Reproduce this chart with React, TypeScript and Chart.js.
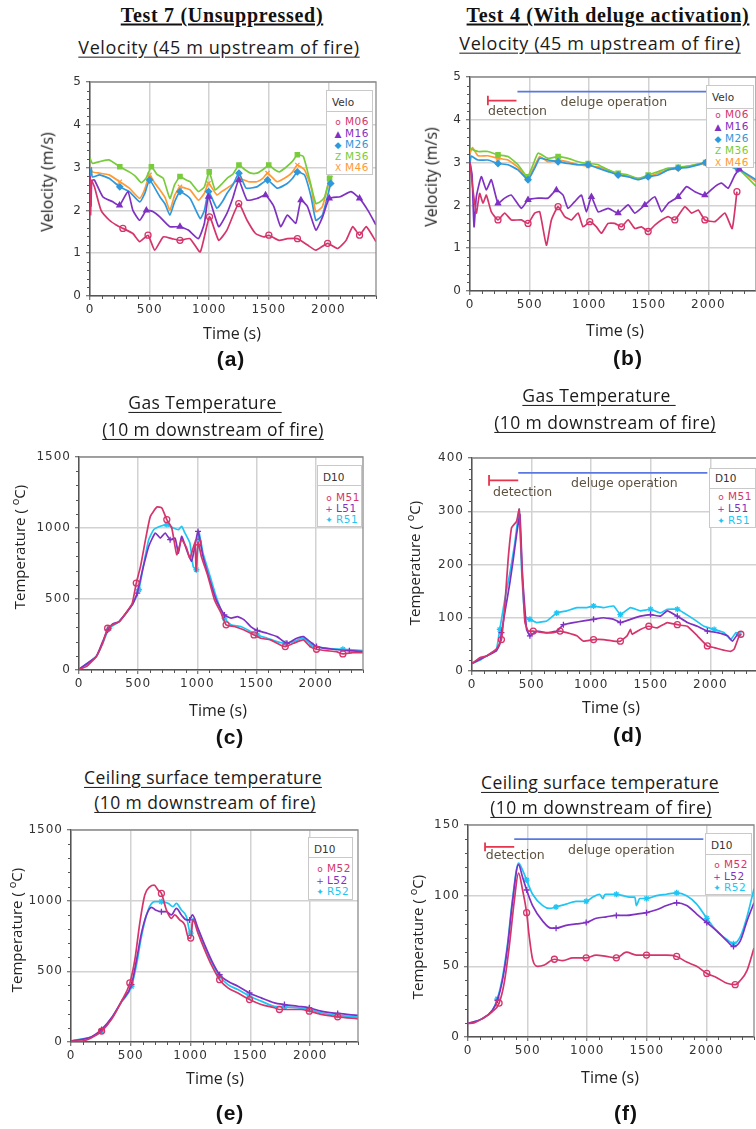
import React, { useEffect, useRef } from 'react';
import { Chart, registerables } from 'chart.js';
Chart.register(...registerables);

type P = [number, number];

// ---------- shared axis values ----------
const TIME_MAX = 2400;
const TIME_TICKS = [0, 500, 1000, 1500, 2000];
const TIME_STEP = 500;
const TIME_MINOR = 100;
const MARKER_STEP = 250;

// ---------- (a) Test 7 velocity ----------
const aM06: P[] = [[0,2.8],[5,1.9],[12,2.7],[37,2.55],[93,2.0],[163,1.77],[220,1.66],[276,1.58],[360,1.46],[417,1.27],[487,1.42],[543,1.07],[614,1.38],[685,1.34],[755,1.3],[839,1.34],[925,1.03],[1003,1.85],[1080,1.3],[1149,1.54],[1248,2.16],[1318,1.77],[1389,1.46],[1459,1.38],[1501,1.42],[1586,1.3],[1656,1.34],[1741,1.34],[1825,1.19],[1896,1.07],[1994,1.23],[2079,1.11],[2149,1.3],[2205,1.62],[2262,1.42],[2318,1.62],[2400,1.27]];
const aM16: P[] = [[0,2.8],[8,2.1],[15,2.7],[37,2.71],[107,2.32],[191,2.2],[248,2.12],[318,2.44],[360,2.0],[417,1.77],[473,2.0],[530,1.97],[586,1.85],[670,1.62],[755,1.62],[825,1.54],[910,1.34],[960,1.7],[994,2.32],[1080,1.62],[1149,1.93],[1200,2.3],[1248,2.71],[1318,2.24],[1403,2.28],[1473,2.36],[1543,2.09],[1600,1.62],[1656,1.89],[1727,1.7],[1770,2.24],[1825,2.09],[1896,1.54],[1952,1.85],[2008,2.28],[2100,2.32],[2190,2.44],[2262,2.28],[2332,2.0],[2400,1.66]];
const aM26: P[] = [[0,2.75],[10,3.0],[20,2.78],[80,2.83],[160,2.75],[250,2.55],[330,2.44],[417,2.2],[460,2.4],[500,2.71],[586,2.32],[630,2.15],[670,1.89],[710,2.2],[755,2.44],[840,2.28],[925,1.81],[960,2.0],[995,2.44],[1065,2.05],[1110,2.2],[1150,2.4],[1200,2.6],[1250,2.87],[1310,2.52],[1400,2.55],[1490,2.71],[1570,2.52],[1655,2.63],[1700,2.75],[1740,2.9],[1800,2.83],[1855,2.32],[1895,1.77],[1950,1.89],[2020,2.63]];
const aM36: P[] = [[0,3.22],[20,3.1],[80,3.14],[160,3.18],[250,3.02],[330,2.9],[380,2.8],[430,2.65],[470,2.75],[515,3.02],[560,2.85],[615,2.75],[670,2.28],[710,2.6],[755,2.79],[800,2.72],[840,2.67],[910,2.44],[960,2.55],[1000,2.9],[1050,2.48],[1100,2.6],[1150,2.75],[1200,2.85],[1250,3.06],[1300,2.95],[1350,2.87],[1400,2.87],[1450,2.95],[1500,3.06],[1550,2.95],[1590,2.9],[1650,3.02],[1700,3.15],[1740,3.3],[1790,3.26],[1840,2.75],[1895,2.16],[1930,2.2],[1970,2.32],[2010,2.75],[2035,2.8]];
const aM46: P[] = [[0,3.02],[20,2.9],[80,2.87],[160,2.83],[250,2.67],[330,2.52],[417,2.28],[460,2.5],[500,2.83],[540,2.65],[586,2.48],[630,2.3],[670,2.0],[710,2.35],[755,2.55],[800,2.52],[840,2.48],[910,2.24],[960,2.4],[995,2.63],[1065,2.36],[1110,2.45],[1150,2.52],[1200,2.62],[1250,2.75],[1330,2.67],[1400,2.67],[1450,2.75],[1490,2.87],[1570,2.67],[1655,2.79],[1700,2.9],[1740,3.06],[1800,2.95],[1855,2.55],[1895,1.97],[1950,2.09],[2010,2.71],[2030,2.75]];

// ---------- (b) Test 4 velocity ----------
const bM06: P[] = [[0,3.0],[25,2.36],[53,1.82],[81,2.28],[109,2.05],[137,2.24],[179,1.85],[235,1.66],[291,1.82],[347,1.66],[431,1.66],[487,1.58],[543,1.82],[585,1.85],[641,1.07],[683,1.66],[739,1.97],[795,1.74],[851,1.66],[907,1.82],[949,1.5],[1005,1.62],[1061,1.5],[1103,1.35],[1159,1.58],[1215,1.58],[1271,1.5],[1327,1.66],[1383,1.46],[1439,1.5],[1495,1.39],[1551,1.54],[1607,1.66],[1663,1.74],[1719,1.66],[1803,1.97],[1859,1.82],[1915,1.89],[1971,1.66],[2055,1.62],[2139,1.82],[2200,1.46],[2240,2.32]];
const bM16: P[] = [[0,3.0],[17,2.72],[34,1.5],[53,2.2],[95,2.67],[137,2.36],[179,2.6],[235,2.05],[291,2.17],[347,2.24],[431,1.93],[487,2.13],[571,2.17],[655,2.17],[725,2.36],[781,2.24],[823,1.93],[879,2.09],[935,2.24],[977,1.85],[1019,2.2],[1075,1.85],[1159,1.93],[1243,1.82],[1327,2.01],[1383,1.82],[1467,2.01],[1551,2.2],[1607,1.85],[1663,2.05],[1747,2.2],[1817,2.44],[1887,2.32],[1971,2.24],[2055,2.44],[2111,2.52],[2167,2.4],[2223,2.71],[2260,2.85]];
const bM26: P[] = [[0,2.98],[10,3.15],[67,3.06],[151,3.06],[235,2.98],[319,2.95],[403,2.83],[487,2.6],[543,2.87],[585,3.1],[655,3.06],[739,3.02],[823,2.98],[907,2.95],[991,2.95],[1075,2.87],[1159,2.79],[1243,2.71],[1327,2.67],[1411,2.6],[1495,2.67],[1579,2.71],[1663,2.83],[1747,2.87],[1831,2.89],[1915,2.95],[1977,3.0],[2100,2.95],[2250,2.85],[2400,2.6]];
const bM36: P[] = [[0,3.33],[67,3.26],[151,3.26],[235,3.18],[319,3.14],[403,2.95],[482,2.67],[529,2.95],[571,3.22],[655,3.1],[739,3.14],[823,3.1],[907,3.02],[991,2.98],[1075,2.95],[1159,2.83],[1243,2.75],[1327,2.71],[1411,2.63],[1495,2.71],[1579,2.79],[1663,2.87],[1747,2.89],[1831,2.92],[1915,2.97],[1977,3.0],[2100,2.95],[2250,2.85],[2400,2.45]];
const bM46: P[] = [[0,3.22],[20,3.35],[67,3.16],[151,3.16],[235,3.1],[319,3.06],[403,2.89],[482,2.63],[543,2.92],[585,3.14],[655,3.02],[739,3.06],[823,3.02],[907,2.95],[991,2.92],[1075,2.9],[1159,2.83],[1243,2.71],[1327,2.67],[1411,2.63],[1495,2.67],[1579,2.75],[1663,2.83],[1747,2.87],[1831,2.92],[1915,2.95],[1977,2.98],[2100,2.95],[2250,2.85],[2400,2.55]];
const bDetection: P[] = [[150,4.56],[150,4.34],[150,4.45],[390,4.45]];
const bDeluge: P[] = [[398,4.66],[1985,4.66]];
const bDetectionLabel: P = [151, 4.19];
const bDelugeLabel: P = [1207, 4.4];

// ---------- (c) Test 7 gas temperature ----------
const cM51: P[] = [[0,5],[61,24],[145,94],[200,188],[242,294],[284,318],[339,341],[395,400],[450,470],[484,612],[520,730],[562,918],[603,1082],[659,1148],[700,1141],[742,1059],[784,1000],[826,812],[867,918],[909,859],[937,788],[979,894],[990,694],[1006,900],[1034,800],[1090,659],[1145,494],[1201,400],[1243,318],[1312,306],[1396,282],[1479,247],[1535,224],[1618,212],[1701,176],[1743,165],[1813,188],[1896,212],[1952,165],[2007,146],[2091,136],[2174,129],[2230,113],[2313,122],[2400,122]];
const cL51: P[] = [[0,5],[145,94],[200,200],[242,282],[284,325],[339,341],[450,459],[492,541],[534,694],[589,870],[645,965],[687,929],[728,965],[770,918],[812,929],[840,823],[867,941],[909,847],[951,765],[979,870],[1006,976],[1048,800],[1104,635],[1159,494],[1229,388],[1285,365],[1340,376],[1396,353],[1451,306],[1507,278],[1590,259],[1673,235],[1757,188],[1840,224],[1896,235],[1952,200],[2007,165],[2146,146],[2285,136],[2400,129]];
const cR51: P[] = [[0,5],[145,94],[200,188],[256,294],[339,341],[450,459],[506,565],[548,753],[589,918],[631,988],[687,1012],[742,1024],[798,1000],[840,988],[867,1012],[895,965],[937,894],[965,729],[992,706],[1012,976],[1048,823],[1104,671],[1159,518],[1229,365],[1285,318],[1368,306],[1451,271],[1507,247],[1590,224],[1673,200],[1743,188],[1813,200],[1896,224],[1965,176],[2091,153],[2230,146],[2400,136]];

// ---------- (d) Test 4 gas temperature ----------
const dM51: P[] = [[0,14],[65,25],[121,28],[205,41],[247,59],[275,122],[303,209],[332,269],[374,281],[396,304],[416,209],[444,91],[472,75],[514,75],[599,72],[683,72],[739,75],[795,72],[880,66],[936,56],[1020,59],[1104,59],[1189,56],[1245,56],[1301,66],[1329,78],[1343,69],[1413,78],[1484,84],[1554,81],[1638,91],[1723,87],[1807,84],[1891,66],[1975,47],[2032,44],[2116,39],[2172,37],[2200,41],[2242,66],[2256,69]];
const dL51: P[] = [[0,14],[121,28],[205,38],[233,50],[247,72],[275,109],[318,166],[346,209],[374,256],[402,294],[424,178],[458,78],[486,66],[542,75],[627,72],[711,75],[767,87],[851,91],[936,94],[1020,97],[1104,100],[1189,97],[1245,91],[1329,97],[1413,103],[1498,106],[1582,103],[1638,113],[1723,103],[1807,91],[1891,84],[1975,75],[2060,72],[2144,66],[2186,56],[2228,69]];
const dR51: P[] = [[0,14],[65,20],[121,28],[205,41],[233,78],[275,134],[318,184],[360,241],[396,304],[416,191],[444,103],[486,97],[542,91],[627,94],[711,109],[795,113],[880,119],[964,119],[1020,122],[1104,119],[1189,122],[1245,106],[1329,119],[1413,113],[1498,116],[1582,109],[1638,116],[1723,116],[1779,109],[1863,97],[1947,84],[2032,78],[2116,72],[2172,59],[2214,72],[2242,69]];
const dDetection: P[] = [[143,368],[143,348],[143,358],[388,358]];
const dDeluge: P[] = [[388,372],[1975,372]];
const dDetectionLabel: P = [177, 334];
const dDelugeLabel: P = [1279, 352];

// ---------- (e) Test 7 ceiling temperature ----------
const eM52: P[] = [[0,7],[89,7],[172,30],[256,77],[339,160],[423,289],[492,418],[534,582],[575,840],[617,1040],[659,1098],[695,1110],[728,1075],[756,1051],[798,934],[840,875],[867,899],[909,864],[951,829],[984,735],[1001,735],[1020,864],[1062,770],[1118,652],[1173,547],[1243,441],[1312,383],[1396,347],[1493,300],[1590,265],[1701,242],[1743,230],[1840,230],[1924,230],[1993,218],[2091,195],[2230,178],[2400,164]];
const eL52: P[] = [[0,7],[172,37],[256,89],[339,171],[423,289],[506,406],[548,582],[589,770],[631,899],[673,953],[706,934],[756,922],[798,922],[840,899],[881,946],[923,899],[965,864],[992,864],[1015,899],[1062,805],[1118,688],[1173,582],[1243,476],[1312,430],[1396,394],[1493,347],[1590,312],[1701,277],[1785,265],[1896,253],[1993,242],[2091,218],[2230,202],[2400,188]];
const eR52: P[] = [[0,7],[256,77],[423,282],[506,394],[548,547],[589,746],[645,934],[700,993],[756,993],[812,981],[853,958],[881,981],[923,934],[965,887],[992,782],[1001,770],[1020,875],[1062,793],[1118,676],[1173,570],[1243,465],[1312,406],[1396,371],[1493,324],[1590,289],[1701,253],[1785,249],[1896,242],[1993,230],[2091,207],[2230,188],[2400,176]];

// ---------- (f) Test 4 ceiling temperature ----------
const fM52: P[] = [[0,9.6],[51,10],[121,13],[205,18],[261,24],[303,38],[346,64],[388,96],[424,116],[458,104],[492,88],[514,71],[542,55],[584,50],[641,51],[725,55],[795,54],[880,56],[992,56],[1076,58],[1161,57],[1245,56],[1329,60],[1413,58],[1498,58],[1582,58],[1666,58],[1751,57],[1835,53],[1919,50],[2004,45],[2088,42],[2172,38],[2242,37],[2285,40],[2341,47],[2400,63]];
const fL52: P[] = [[0,9.6],[121,13],[205,19],[247,26],[289,40],[332,64],[374,96],[424,122],[458,113],[492,104],[542,93],[627,82],[697,77],[739,77],[823,79],[908,80],[992,81],[1076,84],[1161,85],[1245,86],[1329,86],[1413,87],[1498,88],[1582,90],[1666,93],[1751,95],[1835,93],[1919,87],[2004,81],[2088,75],[2172,68],[2228,64],[2285,68],[2341,82],[2400,95]];
const fR52: P[] = [[0,9.6],[121,13],[205,19],[247,27],[289,42],[332,66],[374,98],[424,123],[458,118],[492,111],[542,101],[627,93],[683,91],[739,92],[823,94],[908,96],[992,96],[1048,99],[1104,101],[1132,98],[1150,101],[1189,101],[1245,101],[1301,100],[1357,99],[1400,99],[1413,93],[1441,98],[1498,98],[1582,100],[1666,101],[1751,102],[1835,100],[1919,94],[2004,84],[2088,75],[2172,69],[2228,66],[2285,71],[2341,85],[2400,105]];
const fDetection: P[] = [[143,137.6],[143,131.4],[143,134.5],[388,134.5]];
const fDeluge: P[] = [[388,140],[1975,140]];
const fDetectionLabel: P = [149, 128];
const fDelugeLabel: P = [1287, 132];

// ---------- styling ----------
const COL = {
  crimson: '#d5356b',
  purple: '#7f31c2',
  blue: '#2f98db',
  green: '#78cc3c',
  orange: '#ff9a35',
  cyan: '#1fc6f3',
  det: '#e6354d',
  del: '#5a78e0',
};

type Series = { label: string; data: P[]; color: string; marker: string; glyph: string; hollow?: boolean };
type Anno = { det: P[]; del: P[]; detLabel: P; delLabel: P };
type Panel = {
  plot: [number, number, number, number];
  yMax: number;
  yStep: number;
  series: Series[];
  tension: number;
  anno?: Anno;
};

const velSeries = (d: P[][]): Series[] => [
  { label: 'M06', data: d[0], color: COL.crimson, marker: 'circle', glyph: 'o', hollow: true },
  { label: 'M16', data: d[1], color: COL.purple, marker: 'triangle', glyph: '▲' },
  { label: 'M26', data: d[2], color: COL.blue, marker: 'rectRot', glyph: '◆' },
  { label: 'M36', data: d[3], color: COL.green, marker: 'rect', glyph: 'Z' },
  { label: 'M46', data: d[4], color: COL.orange, marker: 'crossRot', glyph: 'X' },
];
const tempSeries = (names: string[], d: P[][]): Series[] => [
  { label: names[0], data: d[0], color: COL.crimson, marker: 'circle', glyph: 'o', hollow: true },
  { label: names[1], data: d[1], color: COL.purple, marker: 'cross', glyph: '+' },
  { label: names[2], data: d[2], color: COL.cyan, marker: 'star', glyph: '✦' },
];

const PANELS: Panel[] = [
  { plot: [90, 82, 376, 296], yMax: 5, yStep: 1, tension: 0.15, series: velSeries([aM06, aM16, aM26, aM36, aM46]) },
  { plot: [470, 77, 756, 291], yMax: 5, yStep: 1, tension: 0.15, series: velSeries([bM06, bM16, bM26, bM36, bM46]),
    anno: { det: bDetection, del: bDeluge, detLabel: bDetectionLabel, delLabel: bDelugeLabel } },
  { plot: [79, 457, 363, 670], yMax: 1500, yStep: 500, tension: 0.15, series: tempSeries(['M51', 'L51', 'R51'], [cM51, cL51, cR51]) },
  { plot: [472, 458, 758, 671], yMax: 400, yStep: 100, tension: 0.1, series: tempSeries(['M51', 'L51', 'R51'], [dM51, dL51, dR51]),
    anno: { det: dDetection, del: dDeluge, detLabel: dDetectionLabel, delLabel: dDelugeLabel } },
  { plot: [71, 830, 358, 1042], yMax: 1500, yStep: 500, tension: 0.35, series: tempSeries(['M52', 'L52', 'R52'], [eM52, eL52, eR52]) },
  { plot: [468, 825, 754, 1037], yMax: 150, yStep: 50, tension: 0.35, series: tempSeries(['M52', 'L52', 'R52'], [fM52, fL52, fR52]),
    anno: { det: fDetection, del: fDeluge, detLabel: fDetectionLabel, delLabel: fDelugeLabel } },
];

function markerIndices(data: P[]): Set<number> {
  const s = new Set<number>();
  const tMax = data[data.length - 1][0];
  for (let m = MARKER_STEP; m <= tMax + 20; m += MARKER_STEP) {
    let best = -1;
    let bd = Infinity;
    data.forEach(([t], i) => {
      const dd = Math.abs(t - m);
      if (dd < bd) { bd = dd; best = i; }
    });
    if (bd <= 45) s.add(best);
  }
  return s;
}

const YW = 50, PT = 12, PR = 14, XH = 32;
const TICK_FONT = { family: 'DejaVu Sans', size: 12 };

function ChartBox({ p }: { p: Panel }) {
  const ref = useRef<HTMLCanvasElement>(null);
  const [l, t, r, b] = p.plot;
  const W = r - l + YW + PR;
  const H = b - t + PT + XH;
  useEffect(() => {
    const canvas = ref.current!;
    const datasets: any[] = p.series.map((s) => {
      const idx = markerIndices(s.data);
      return {
        label: s.label,
        data: s.data.map(([x, y]) => ({ x, y })),
        borderColor: s.color,
        backgroundColor: s.color,
        borderWidth: 1.7,
        pointStyle: s.marker,
        pointRadius: (c: any) => (idx.has(c.dataIndex) ? 3 : 0),
        pointBorderColor: s.color,
        pointBackgroundColor: s.hollow ? 'rgba(255,255,255,0)' : s.color,
        pointBorderWidth: 1.3,
        tension: p.tension,
        cubicInterpolationMode: p.tension > 0.3 ? 'monotone' : 'default',
        fill: false,
      };
    });
    if (p.anno) {
      datasets.push({ label: 'detection', data: p.anno.det.map(([x, y]) => ({ x, y })), borderColor: COL.det, borderWidth: 1.8, pointRadius: 0, tension: 0, fill: false });
      datasets.push({ label: 'deluge operation', data: p.anno.del.map(([x, y]) => ({ x, y })), borderColor: COL.del, borderWidth: 1.8, pointRadius: 0, tension: 0, fill: false });
    }
    const yTicks: number[] = [];
    for (let i = 0; i * p.yStep <= p.yMax + 1e-9; i++) yTicks.push(i * p.yStep);
    const spacing = {
      id: 'spacing',
      beforeDraw(chart: any) { chart.ctx.letterSpacing = '1px'; },
      afterDraw(chart: any) { chart.ctx.letterSpacing = '0px'; },
    };
    const decor = {
      id: 'decor',
      afterDraw(chart: any) {
        const ctx = chart.ctx;
        const { left, right, top, bottom } = chart.chartArea;
        const xs = chart.scales.x;
        const ys = chart.scales.y;
        ctx.save();
        ctx.letterSpacing = '0px';
        ctx.strokeStyle = '#555';
        ctx.lineWidth = 1;
        ctx.beginPath();
        for (let v = TIME_MINOR; v < TIME_MAX + 1; v += TIME_MINOR) {
          if (v % TIME_STEP === 0) continue;
          const px = Math.round(xs.getPixelForValue(v)) + 0.5;
          ctx.moveTo(px, bottom);
          ctx.lineTo(px, bottom + 3);
        }
        const n = Math.round(p.yMax / p.yStep) * 5;
        for (let i = 1; i < n; i++) {
          if (i % 5 === 0) continue;
          const py = Math.round(ys.getPixelForValue((i * p.yStep) / 5)) + 0.5;
          ctx.moveTo(left - 3, py);
          ctx.lineTo(left, py);
        }
        ctx.stroke();
        ctx.strokeStyle = '#8c8c8c';
        ctx.lineWidth = 1.3;
        ctx.beginPath();
        ctx.moveTo(left, top);
        ctx.lineTo(right, top);
        ctx.lineTo(right, bottom);
        ctx.stroke();
        if (p.anno) {
          ctx.font = '12.5px "DejaVu Sans"';
          ctx.fillStyle = '#5d5140';
          ctx.textBaseline = 'middle';
          ctx.textAlign = 'left';
          ctx.fillText('detection', xs.getPixelForValue(p.anno.detLabel[0]), ys.getPixelForValue(p.anno.detLabel[1]));
          ctx.textAlign = 'center';
          ctx.fillText('deluge operation', xs.getPixelForValue(p.anno.delLabel[0]), ys.getPixelForValue(p.anno.delLabel[1]));
        }
        ctx.restore();
      },
    };
    const chart = new Chart(canvas, {
      type: 'line',
      data: { datasets },
      options: {
        responsive: false,
        maintainAspectRatio: false,
        animation: false,
        events: [],
        layout: { padding: { top: PT, right: PR, left: 0, bottom: 0 } },
        plugins: { legend: { display: false }, tooltip: { enabled: false } },
        scales: {
          x: {
            type: 'linear',
            min: 0,
            max: TIME_MAX,
            ticks: { font: TICK_FONT, color: '#333', padding: 3, maxRotation: 0, autoSkip: false, callback: (v: any) => String(v) },
            afterBuildTicks: (s: any) => { s.ticks = TIME_TICKS.map((v) => ({ value: v })); },
            grid: { color: '#d2d2d2', lineWidth: 1.5, tickLength: 4, tickColor: '#555', tickWidth: 1 },
            border: { color: '#555', width: 1.5 },
            afterFit: (s: any) => { s.height = XH; },
          },
          y: {
            type: 'linear',
            min: 0,
            max: p.yMax,
            ticks: { font: TICK_FONT, color: '#333', padding: 4, autoSkip: false, callback: (v: any) => String(v) },
            afterBuildTicks: (s: any) => { s.ticks = yTicks.map((v) => ({ value: v })); },
            grid: { color: '#d2d2d2', lineWidth: 1.5, tickLength: 4, tickColor: '#555', tickWidth: 1 },
            border: { color: '#555', width: 1.5 },
            afterFit: (s: any) => { s.width = YW; },
          },
        },
      } as any,
      plugins: [spacing, decor],
    });
    return () => chart.destroy();
  }, []);
  return (
    <canvas
      ref={ref}
      width={W}
      height={H}
      style={{ position: 'absolute', left: l - YW, top: t - PT, width: W, height: H }}
    />
  );
}

type LegendSpec = { left: number; top: number; width: number; height: number; headH: number; headY: number; title: string; firstY: number; step: number; series: Series[] };

function Legend({ g }: { g: LegendSpec }) {
  return (
    <div style={{ position: 'absolute', left: g.left, top: g.top, width: g.width, height: g.height, background: '#fff', border: '1px solid #c9c9c9', boxSizing: 'border-box' }}>
      <div style={{ position: 'absolute', left: 0, top: 0, width: '100%', height: g.headH, borderBottom: '1px solid #c9c9c9', boxSizing: 'border-box' }} />
      <div style={{ position: 'absolute', left: 5, top: g.headY, transform: 'translateY(-50%)', font: '10.5px "DejaVu Sans"', color: '#333', lineHeight: 1 }}>{g.title}</div>
      {g.series.map((s, i) => (
        <div key={s.label} style={{ position: 'absolute', left: 4, top: g.firstY + i * g.step, transform: 'translateY(-50%)', color: s.color, font: '10.5px "DejaVu Sans"', lineHeight: 1, whiteSpace: 'nowrap' }}>
          <span style={{ display: 'inline-block', width: 14, textAlign: 'center', fontSize: 9 }}>{s.glyph}</span>
          <span style={{ letterSpacing: '0.5px' }}>{s.label}</span>
        </div>
      ))}
    </div>
  );
}

const LEGENDS: LegendSpec[] = [
  { left: 326, top: 90, width: 47, height: 85, headH: 21, headY: 11, title: 'Velo', firstY: 30, step: 11.5, series: PANELS[0].series },
  { left: 706, top: 85, width: 48, height: 83, headH: 23, headY: 11, title: 'Velo', firstY: 28, step: 12, series: PANELS[1].series },
  { left: 317, top: 465, width: 45, height: 62, headH: 20, headY: 11, title: 'D10', firstY: 31, step: 11, series: PANELS[2].series },
  { left: 709, top: 468, width: 47, height: 60, headH: 20, headY: 9, title: 'D10', firstY: 27, step: 12, series: PANELS[3].series },
  { left: 308, top: 837, width: 45, height: 63, headH: 20, headY: 11, title: 'D10', firstY: 30, step: 11.5, series: PANELS[4].series },
  { left: 705, top: 833, width: 47, height: 62, headH: 21, headY: 11, title: 'D10', firstY: 30, step: 11.7, series: PANELS[5].series },
];

function Txt({ x, y, rot, style, children }: { x: number; y: number; rot?: boolean; style?: React.CSSProperties; children: React.ReactNode }) {
  return (
    <div style={{ position: 'absolute', left: x, top: y, transform: `translate(-50%,-50%)${rot ? ' rotate(-90deg)' : ''}`, whiteSpace: 'nowrap', lineHeight: 1.15, ...style }}>
      {children}
    </div>
  );
}

const serifHead: React.CSSProperties = { fontFamily: '"Liberation Serif"', fontWeight: 'bold', fontSize: 20, letterSpacing: '0.7px', textDecoration: 'underline', textUnderlineOffset: 2, color: '#111' };
const sansHeadTop: React.CSSProperties = { fontFamily: '"Open Sans"', fontSize: 18, letterSpacing: '0.6px', textDecoration: 'underline', textUnderlineOffset: 3, color: '#1a1a1a' };
const sansHead: React.CSSProperties = { fontFamily: '"Open Sans"', fontSize: 17.5, letterSpacing: '0.4px', textDecoration: 'underline', textUnderlineOffset: 3, color: '#1a1a1a' };
const axisT: React.CSSProperties = { fontFamily: '"Open Sans"', fontSize: 16, color: '#222' };
const axisTemp: React.CSSProperties = { fontFamily: '"Open Sans"', fontSize: 15, color: '#222' };
const tag: React.CSSProperties = { fontFamily: '"Liberation Sans"', fontWeight: 'bold', fontSize: 21, color: '#111', letterSpacing: '1px' };

const TempTitle = () => (
  <span>Temperature ( <sup style={{ fontSize: 11, verticalAlign: 'super', lineHeight: 0 }}>o</sup>C)</span>
);

export default function App() {
  return (
    <div style={{ position: 'fixed', left: 0, top: 0, width: 756, height: 1129, overflow: 'hidden', background: '#fff' }}>
      {PANELS.map((p, i) => <ChartBox key={i} p={p} />)}
      {LEGENDS.map((g, i) => <Legend key={i} g={g} />)}

      <Txt x={222} y={15} style={serifHead}>Test 7 (Unsuppressed)</Txt>
      <Txt x={219} y={47} style={sansHeadTop}>Velocity (45 m upstream of fire)</Txt>
      <Txt x={47} y={182} rot style={axisT}>Velocity (m/s)</Txt>
      <Txt x={232} y={333} style={axisT}>Time (s)</Txt>
      <Txt x={231} y={359} style={tag}>(a)</Txt>

      <Txt x={608} y={15} style={serifHead}>Test 4 (With deluge activation)</Txt>
      <Txt x={600} y={43} style={sansHeadTop}>Velocity (45 m upstream of fire)</Txt>
      <Txt x={431} y={177} rot style={axisT}>Velocity (m/s)</Txt>
      <Txt x={615} y={330} style={axisT}>Time (s)</Txt>
      <Txt x={628} y={358} style={tag}>(b)</Txt>

      <Txt x={205} y={402} style={sansHead}>Gas Temperature&nbsp;</Txt>
      <Txt x={213} y={429} style={sansHead}>(10 m downstream of fire)</Txt>
      <Txt x={20} y={547} rot style={axisTemp}><TempTitle /></Txt>
      <Txt x={218} y={710} style={axisT}>Time (s)</Txt>
      <Txt x={230} y={737} style={tag}>(c)</Txt>

      <Txt x={599} y={395} style={sansHead}>Gas Temperature&nbsp;</Txt>
      <Txt x={605} y={422} style={sansHead}>(10 m downstream of fire)</Txt>
      <Txt x={415} y={563} rot style={axisTemp}><TempTitle /></Txt>
      <Txt x={611} y={707} style={axisT}>Time (s)</Txt>
      <Txt x={628} y={735} style={tag}>(d)</Txt>

      <Txt x={203} y={777} style={sansHead}>Ceiling surface temperature</Txt>
      <Txt x={205} y={802} style={sansHead}>(10 m downstream of fire)</Txt>
      <Txt x={17} y={930} rot style={axisTemp}><TempTitle /></Txt>
      <Txt x={215} y={1078} style={axisT}>Time (s)</Txt>
      <Txt x={230} y={1113} style={tag}>(e)</Txt>

      <Txt x={600} y={782} style={sansHead}>Ceiling surface temperature</Txt>
      <Txt x={601} y={807} style={sansHead}>(10 m downstream of fire)</Txt>
      <Txt x={418} y={937} rot style={axisTemp}><TempTitle /></Txt>
      <Txt x={610} y={1077} style={axisT}>Time (s)</Txt>
      <Txt x={626} y={1113} style={tag}>(f)</Txt>
    </div>
  );
}
